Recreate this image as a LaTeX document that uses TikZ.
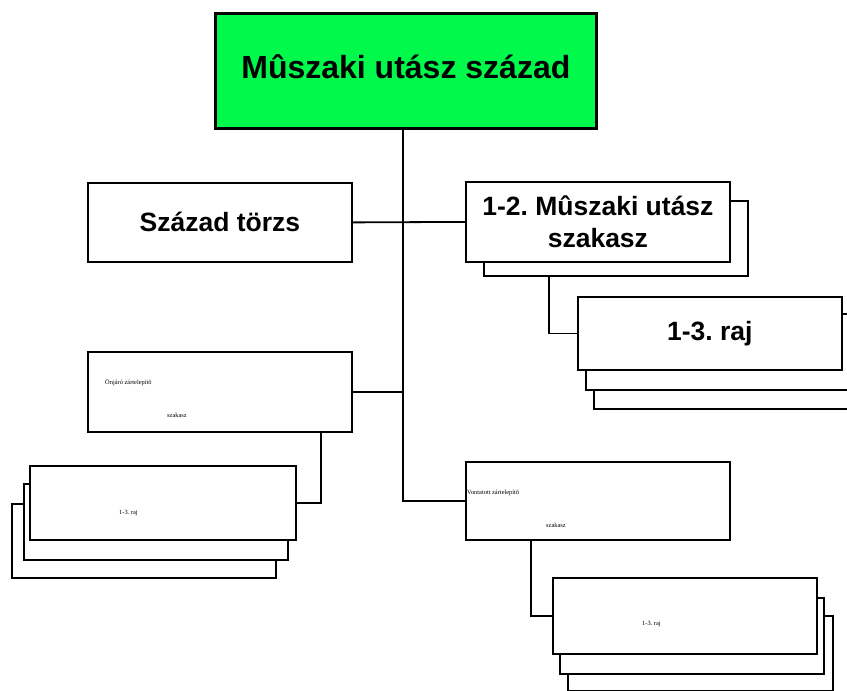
\documentclass[tikz,border=0pt]{standalone}
\usepackage{fontspec}
\setmainfont{Liberation Sans}
\newfontfamily\smallserif{Liberation Serif}
\definecolor{unitgreen}{RGB}{0,250,75}
\frenchspacing
\begin{document}
\begin{tikzpicture}[x=1pt,y=-1pt,
  box/.style={draw=black, fill=white, line width=1.8pt, rectangle,
    inner sep=0pt, anchor=north west, align=center},
  headbox/.style={box, fill=unitgreen, line width=2.8pt, text depth=9pt,
    font=\bfseries\fontsize{32}{36}\selectfont},
  unitlabel/.style={font=\bfseries\fontsize{26.5}{32}\selectfont},
  tiny/.style={anchor=base west, inner sep=0pt,
    font=\smallserif\fontsize{6.4}{7}\selectfont},
  wire/.style={line width=1.8pt},
  trunk/.style={line width=2.6pt}]
\clip (0,0) rectangle (847,691);

% company headquarters
\node[headbox, minimum width=381pt, minimum height=115pt] (top) at (214,12)
  {M\^uszaki ut\'asz sz\'azad};

% company staff
\node[box, unitlabel, minimum width=264pt, minimum height=79pt] (torzs) at (87,182)
  {Sz\'azad t\"orzs};

% engineer platoons (stacked 2)
\node[box, minimum width=264pt, minimum height=75pt] (szakB) at (483,200) {};
\node[box, unitlabel, minimum width=264pt, minimum height=80pt] (szak) at (465,181)
  {1-2. M\^uszaki ut\'asz\\szakasz};

% squads of the engineer platoons (stacked 3)
\node[box, minimum width=264pt, minimum height=78pt] (rajC) at (593,330) {};
\node[box, minimum width=264pt, minimum height=76pt] (rajB) at (585,313) {};
\node[box, unitlabel, minimum width=264pt, minimum height=73pt] (raj) at (577,296)
  {1-3. raj};

% self-propelled obstacle platoon
\node[box, minimum width=264pt, minimum height=80pt] (onj) at (87,351) {};
\node[tiny] (onjA) at (105,384) {\"Onj\'ar\'o z\'artelep\'it\~o};
\node[tiny] (onjB) at (167,417) {szakasz};

% its squads (stacked 3)
\node[box, minimum width=264pt, minimum height=74pt] (lrajC) at (11,503) {};
\node[box, minimum width=264pt, minimum height=76pt] (lrajB) at (23,483) {};
\node[box, minimum width=266pt, minimum height=74pt] (lraj) at (29,465) {};
\node[tiny] (lrajT) at (119,514) {1-3. raj};

% towed obstacle platoon
\node[box, minimum width=264pt, minimum height=78pt] (vont) at (465,461) {};
\node[tiny] (vontA) at (467,494) {Vontatott z\'artelep\'it\~o};
\node[tiny] (vontB) at (546,527) {szakasz};

% its squads (stacked 3)
\node[box, minimum width=265pt, minimum height=75pt] (rrajC) at (567,615) {};
\node[box, minimum width=264pt, minimum height=76pt] (rrajB) at (559,597) {};
\node[box, minimum width=264pt, minimum height=76pt] (rraj) at (552,577) {};
\node[tiny] (rrajT) at (642,625) {1-3. raj};

% connectors
\coordinate (spine) at (403,127);
\coordinate (onjdrop) at (321,431);
\coordinate (szakdrop) at (549,275);
\coordinate (vontdrop) at (531,539);

\draw[trunk] (spine) |- (vont.west);
\draw[wire] (torzs.east) -- (szak.west);
\draw[wire] (onj.east) -- (onj.east -| spine);
\draw[wire] (onjdrop) |- (lraj.east);
\draw[wire] (szakdrop) |- (raj.west);
\draw[wire] (vontdrop) |- (rraj.west);
\end{tikzpicture}
\end{document}
